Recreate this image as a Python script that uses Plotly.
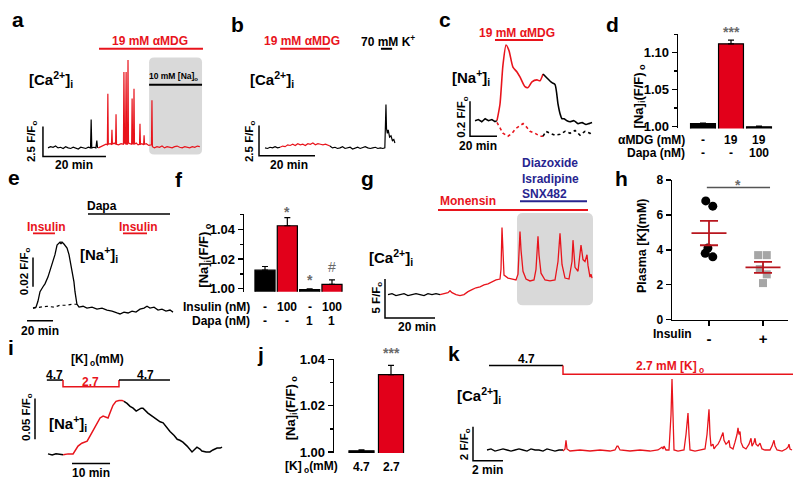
import numpy as np
import plotly.graph_objects as go

W, H = 800, 491
FONT = "Liberation Sans, Arial, Helvetica, sans-serif"
RED = "#e8141c"
BAR_RED = "#e2001a"
MEAN_RED = "#b8161e"
NAVY = "#28258f"
BOX_GRAY = "#d9d9d9"
STAR_GRAY = "#6a6a6a"
SQ_GRAY = "#a6a6a6"

# ====================== DATA ======================
# (a) [Ca2+]i, time (min) vs F/F0
a_t_ctrl = [0, 0.8, 1.6, 2.4, 3.2, 4.0, 4.8, 5.6, 6.4, 7.2, 8.0, 8.8, 9.6, 10.4, 11.2, 12.0, 12.8,
            13.5, 13.7, 13.9, 14.6, 15.2, 15.5, 15.7, 16.0]
a_v_ctrl = [1.0, 1.1, 1.05, 1.15, 1.0, 1.05, 0.95, 1.1, 1.0, 0.95, 1.05, 1.0, 0.9, 1.05, 1.0, 0.95, 1.05,
            1.0, 3.35, 1.0, 1.05, 1.0, 1.6, 1.05, 1.0]
a_t_mdg = [16, 16.8, 17.6, 18.4, 18.85, 19.0, 19.15, 19.7, 20.15, 20.3,
           20.45, 21.0, 21.45, 21.6, 21.75, 22.4, 23.2, 23.95, 24.1, 24.3,
           24.6, 24.8, 24.95, 25.25, 25.4, 25.55, 26.0, 26.55, 26.7, 26.85,
           27.15, 27.3, 27.45, 28.0, 28.6, 29.05, 29.2, 29.35, 29.8, 30.35,
           30.5, 30.65, 31.2, 32.0, 32.85, 33.0, 33.15, 33.8, 34.6, 35.4,
           36.2, 37.0, 37.8, 38.6, 39.4, 40.2, 41.0, 41.8, 42.6, 43.4,
           44.2, 45.0, 45.8, 46.6, 47.4, 48.2]
a_v_mdg = [1.0, 1.1, 1.2, 1.3, 1.25, 5.5, 1.3, 1.35, 1.3, 2.5,
           1.3, 1.4, 1.3, 3.8, 1.3, 1.25, 1.35, 1.3, 7.3, 1.4,
           1.3, 7.3, 1.3, 1.3, 8.3, 1.4, 1.35, 1.3, 5.1, 1.35,
           1.3, 5.9, 1.3, 1.4, 1.25, 1.3, 3.0, 1.3, 1.35, 1.25,
           2.05, 1.3, 1.35, 1.2, 1.25, 4.95, 1.1, 1.0, 1.1, 1.05,
           1.15, 1.0, 1.1, 1.05, 1.0, 1.1, 1.15, 1.05, 1.0, 1.1,
           1.05, 1.0, 1.1, 1.05, 1.15, 1.1]

# (b) [Ca2+]i
b_t_pre = [0, 0.9, 1.8, 2.7, 3.6, 4.5, 5.4]
b_v_pre = [1.0, 0.95, 1.05, 1.0, 1.1, 1.0, 1.05]
b_t_mdg = [5.4, 6.3, 7.2, 8.1, 9.0, 9.9, 10.8, 11.7, 12.6, 13.5, 14.4, 15.3, 16.2, 17.1, 18.0, 18.9,
           19.8, 20.7, 21.6, 22.5, 23.2]
b_v_mdg = [1.05, 1.15, 1.1, 1.25, 1.2, 1.3, 1.2, 1.35, 1.25, 1.3, 1.2, 1.35, 1.3, 1.4, 1.25, 1.35,
           1.3, 1.25, 1.3, 1.2, 1.15]
b_t_post = [23.2, 24.1, 25.0, 25.9, 26.8, 27.7, 28.6, 29.5, 30.4, 31.3, 32.2, 33.1, 34.0, 34.9, 35.8,
            36.7, 37.6, 38.5, 39.4, 40.3, 41.2, 42.1, 42.8, 43.0, 43.2, 43.4, 43.7, 44.0, 44.5, 45.0,
            45.5, 46.0, 46.4]
b_v_post = [1.15, 1.0, 1.05, 0.95, 1.0, 1.1, 0.95, 1.0, 1.05, 0.9, 1.0, 1.05, 0.95, 1.0, 1.1,
            1.0, 0.95, 1.0, 1.05, 0.95, 1.0, 0.95, 1.0, 2.8, 4.6, 2.6, 2.2, 2.5, 1.9, 2.0,
            1.6, 1.7, 1.4]

# (c) [Na+]i
c_t_ctrl = [0, 2.5, 5, 7.5, 10, 12.5, 14.8, 16.3]
c_v_ctrl = [1.0, 1.006, 0.994, 1.011, 1.0, 1.006, 0.994, 1.0]
c_t_mdg = [16.3, 18.5, 20.7, 23.0, 25.2, 28.1, 31.1, 33.3, 37.0, 39.3, 42.2, 45.9, 48.1, 50.4]
c_v_mdg = [1.0, 1.094, 1.317, 1.433, 1.4, 1.306, 1.278, 1.25, 1.194, 1.189, 1.222, 1.233, 1.228, 1.267]
c_t_wash = [50.4, 53.3, 57.0, 59.3, 61.5, 63.0, 64.4, 65.9, 68.1, 70.4, 73.3, 76.3, 79.3, 82.2, 84.4, 86.7]
c_v_wash = [1.267, 1.244, 1.217, 1.206, 1.094, 1.039, 1.011, 1.011, 1.0, 0.994, 1.0, 0.983, 0.989,
            0.978, 0.983, 0.989]
c_t_dapa_mdg = [16.3, 18.5, 20.7, 24.4, 27.4, 30.4, 33.3, 35.6, 38.5, 40.7, 44.4, 48.1, 50.4]
c_v_dapa_mdg = [0.99, 0.956, 0.928, 0.911, 0.928, 0.956, 0.972, 0.983, 0.961, 0.939, 0.928, 0.911, 0.911]
c_t_dapa_wash = [50.4, 52.6, 55.6, 59.3, 63.0, 66.7, 70.4, 74.1, 77.8, 81.5, 85.2, 86.7]
c_v_dapa_wash = [0.911, 0.939, 0.928, 0.917, 0.922, 0.939, 0.928, 0.944, 0.917, 0.939, 0.928, 0.911]

# (d) bars
d_alpha = ["-", "19", "19"]
d_dapa = ["-", "-", "100"]
d_vals = [1.004, 1.112, 0.9995]
d_err = [0.0005, 0.005, 0.001]

# (e) [Na+]i insulin
e_t = [0, 2.3, 3.8, 5.4, 7.7, 9.2, 11.5, 14.6, 16.9, 18.5,
       20.0, 20.8, 21.5, 22.3, 23.8, 26.2, 27.7, 30.0, 31.5, 32.3,
       33.8, 35.4, 38.5, 41.5, 45.4, 49.2, 53.1, 56.9, 60.8, 64.6,
       66.9, 70.0, 73.1, 76.2, 79.2, 82.3, 85.4, 87.7, 90.0, 93.1,
       96.2, 99.2, 102.3, 105.4, 107.7]
e_v = [1.0, 1.0007, 1.0047, 1.0113, 1.0147, 1.0167, 1.0213, 1.03, 1.0367, 1.0433,
       1.0447, 1.0453, 1.044, 1.0453, 1.044, 1.0413, 1.0367, 1.0267, 1.018, 1.0113,
       1.0027, 1.0007, 1.0013, 1.0, 1.0007, 0.9993, 1.0, 0.9987, 0.998, 0.9967,
       0.996, 0.9973, 0.9967, 0.998, 0.9973, 0.9993, 1.0, 1.0013, 1.0, 1.0007,
       0.9987, 0.9993, 0.998, 0.9987, 0.9973]
e_t_dapa = [0, 5.4, 10.8, 16.2, 20.8, 25.4, 30.0, 33.8]
e_v_dapa = [1.0, 1.0007, 1.0013, 1.0007, 1.002, 1.002, 1.0027, 1.0027]

# (f) bars
f_insulin = ["-", "100", "-", "100"]
f_dapa = ["-", "-", "1", "1"]
f_vals = [1.0125, 1.0425, 0.9995, 1.003]
f_err = [0.0025, 0.0055, 0.0005, 0.003]
f_marks = ["", "*", "*", "#"]

# (g) [Ca2+]i monensin
g_t_ctrl = [0, 1.6, 3.2, 4.8, 6.4, 8, 9.6, 11.2, 12.8, 14.4, 16, 17.6, 19.2, 20.8]
g_v_ctrl = [1.0, 1.125, 0.875, 1.0, 1.125, 0.875, 1.0, 1.125, 1.0, 0.875, 1.125, 1.0, 1.125, 1.0]
g_t_mon = [20.8, 22.4, 24, 24.8, 25.6, 27.2, 28.8, 30.4, 32, 33.6, 35.2,
           36.8, 38.4, 40, 41.6, 43.2, 44.8, 45.2, 45.6, 46, 46.4,
           48, 49.6, 51.2, 52, 52.8, 53.2, 54, 55.2, 56.8, 58.4,
           59.2, 60, 60.4, 61.2, 62.8, 64.8, 66.8, 68, 68.8, 69.6,
           70.8, 72.4, 73.6, 74, 74.8, 76, 76.8, 77.2, 78, 78.8,
           79.6, 80, 80.8, 81.2, 81.6]
g_v_mon = [1.0, 1.125, 1.25, 1.5, 1.25, 1.0, 0.875, 1.0, 1.375, 1.625, 1.875,
           2.0, 2.25, 2.375, 2.625, 2.875, 3.0, 4.25, 9.625, 6.125, 3.5,
           3.125, 3.0, 2.875, 3.625, 9.125, 6.75, 4.0, 3.0, 2.75, 2.875,
           4.25, 8.5, 6.125, 3.75, 2.875, 2.75, 2.875, 5.25, 8.875, 4.875,
           3.125, 3.0, 5.25, 8.0, 4.5, 4.0, 6.75, 7.375, 5.5, 5.25,
           6.125, 4.75, 3.25, 3.625, 3.125]
g_blockers = ["Diazoxide", "Isradipine", "SNX482"]

# (h) plasma K
h_groups = ["-", "+"]
h_minus = [6.8, 6.5, 4.1, 3.8, 3.6]
h_plus = [3.7, 3.7, 2.9, 2.6, 2.1]
h_jit_minus = [-0.06, 0.07, -0.02, -0.07, 0.07]
h_jit_plus = [-0.09, 0.07, -0.06, 0.07, 0.0]

# (i) [Na+]i low K
i_steps = [-0.3, 3.95, 18.68, 32.1]
i_t_pre = [0, 1.1, 2.1, 3.2, 4.0]
i_v_pre = [1.0, 0.9988, 1.0, 0.9988, 0.9988]
i_t_low = [4.0, 5.3, 6.6, 7.4, 7.9, 8.9, 10.3, 11.3, 12.4, 13.2,
           13.7, 14.5, 15.0, 15.8, 16.3, 17.1, 17.9, 18.7, 19.5, 20.0]
i_v_low = [0.9988, 1.0, 1.0, 1.006, 1.0095, 1.0131, 1.0155, 1.0238, 1.0333, 1.0405,
           1.044, 1.0464, 1.0452, 1.044, 1.05, 1.0595, 1.0643, 1.0655, 1.0655, 1.0643]
i_t_post = [20.0, 20.8, 21.6, 22.4, 23.2, 23.7, 24.5, 25.0, 25.8, 26.3,
            27.4, 28.7, 29.5, 30.3, 31.3, 32.1, 33.2, 34.0, 34.7, 35.5,
            36.6, 37.4, 37.9, 38.7, 39.2, 40.0, 40.5, 41.6, 42.6, 43.4,
            44.5, 45.3, 45.8]
i_v_post = [1.0643, 1.0619, 1.0583, 1.056, 1.0524, 1.0536, 1.056, 1.056, 1.0524, 1.05,
            1.0464, 1.0417, 1.0393, 1.0381, 1.0321, 1.0274, 1.0226, 1.0179, 1.0167, 1.0143,
            1.0095, 1.0048, 1.0024, 1.006, 1.0083, 1.006, 1.0036, 1.0024, 1.0024, 1.0048,
            1.0071, 1.0071, 1.0083]

# (j) bars
j_k = ["4.7", "2.7"]
j_vals = [1.0005, 1.0335]
j_err = [0.0004, 0.004]

# (k) [Ca2+]i low K, time in s
k_steps = [8, 304, 1224]
k_t_pre = [0, 16, 32, 48, 64, 80, 96, 112, 128, 144, 160, 176, 192, 208, 224, 240, 256, 272, 288, 304]
k_v_pre = [1.0, 1.06, 0.94, 1.0, 1.06, 1.0, 0.94, 1.0, 1.06, 1.0, 0.94, 1.06, 1.0, 1.0, 0.94, 1.06,
           1.0, 0.94, 1.0, 1.0]
k_t_low = [304, 312, 316, 320, 332, 372, 412, 452, 492, 512,
           520, 524, 532, 572, 612, 652, 684, 696, 700, 704,
           708, 716, 728, 736, 740, 744, 748, 764, 788, 796,
           804, 808, 812, 832, 852, 872, 880, 888, 892, 896,
           904, 908, 916, 924, 932, 940, 944, 948, 956, 964,
           968, 972, 984, 992, 1000, 1004, 1008, 1012, 1016, 1024,
           1036, 1048, 1052, 1056, 1060, 1068, 1072, 1076, 1084, 1092,
           1100, 1112, 1132, 1140, 1148, 1152, 1160, 1180, 1196, 1204,
           1208, 1212, 1220]
k_v_low = [0.94, 1.06, 1.57, 1.06, 0.94, 1.0, 0.94, 1.0, 0.94, 1.0,
           1.23, 1.23, 1.0, 0.94, 1.0, 0.94, 1.0, 1.11, 1.17, 1.06,
           1.23, 1.0, 1.0, 3.06, 5.17, 3.06, 1.0, 0.94, 1.0, 1.91,
           3.17, 1.91, 1.0, 0.94, 1.0, 1.06, 1.91, 3.4, 1.91, 1.23,
           1.34, 1.06, 1.23, 1.34, 1.57, 1.91, 2.03, 1.57, 1.34, 1.46,
           1.57, 1.17, 1.06, 1.46, 1.91, 2.31, 1.91, 2.09, 1.46, 1.17,
           1.06, 1.34, 1.57, 1.69, 1.23, 1.46, 1.69, 1.34, 1.23, 1.4,
           1.06, 1.0, 1.0, 1.23, 1.57, 1.23, 1.0, 0.94, 1.06, 1.17,
           1.34, 1.06, 1.0]

# ====================== HELPERS ======================
def px(x):
    return x / W


def py(y):
    return 1 - y / H


def xref(n):
    return 'x' if n == 1 else f'x{n}'


def yref(n):
    return 'y' if n == 1 else f'y{n}'


def rng_x(xpx, a_px, a_val, ppu):
    return [a_val + (xpx[0] - a_px) / ppu, a_val + (xpx[1] - a_px) / ppu]


def rng_y(ypx, a_px, a_val, ppu):
    return [a_val - (ypx[1] - a_px) / ppu, a_val + (a_px - ypx[0]) / ppu]


layout = dict(width=W, height=H, margin=dict(l=0, r=0, t=0, b=0),
              paper_bgcolor='white', plot_bgcolor='rgba(0,0,0,0)',
              showlegend=False, hovermode=False,
              font=dict(family=FONT, color='black'))


def set_axes(n, xpx, ypx, xr, yr, xextra=None, yextra=None):
    xk = 'xaxis' if n == 1 else f'xaxis{n}'
    yk = 'yaxis' if n == 1 else f'yaxis{n}'
    xa = dict(domain=[px(xpx[0]), px(xpx[1])], range=xr, anchor=yref(n), visible=False,
              showgrid=False, zeroline=False, fixedrange=True)
    ya = dict(domain=[py(ypx[1]), py(ypx[0])], range=yr, anchor=xref(n), visible=False,
              showgrid=False, zeroline=False, fixedrange=True)
    if xextra:
        xa.update(xextra)
    if yextra:
        ya.update(yextra)
    layout[xk] = xa
    layout[yk] = ya


def axis_style(tickvals, ticktext, minor_vals=None, size=13):
    d = dict(visible=True, showline=True, linecolor='black', linewidth=1.3, ticks='outside',
             ticklen=5, tickwidth=1.3, tickcolor='black', tickvals=tickvals, ticktext=ticktext,
             tickfont=dict(family=FONT, size=size, color='black', weight='bold'))
    if minor_vals:
        d['minor'] = dict(tickvals=minor_vals, ticks='outside', ticklen=3, tickwidth=1.3,
                          tickcolor='black', showgrid=False)
    return d


fig = go.Figure()
shapes, annots = [], []


def trace(n, t, v, color, width=1.2, dash=None, smooth=False):
    line = dict(color=color, width=width)
    if dash:
        line['dash'] = dash
    if smooth:
        line.update(shape='spline', smoothing=0.6)
    fig.add_trace(go.Scatter(x=t, y=v, mode='lines', line=line, xaxis=xref(n), yaxis=yref(n),
                             hoverinfo='skip'))


def txt(x, y, s, size=12, color='black', angle=0, xa='center', ya='middle', xr='paper', bold=True, align='center'):
    annots.append(dict(x=px(x) if xr == 'paper' else x, y=py(y), xref=xr, yref='paper',
                       text=(f'<b>{s}</b>' if bold else s), showarrow=False, textangle=angle,
                       xanchor=xa, yanchor=ya, align=align, font=dict(family=FONT, size=size, color=color)))


def stim(n, t0, t1, ypix, color, width=2):
    shapes.append(dict(type='line', xref=xref(n), yref='paper', x0=t0, x1=t1, y0=py(ypix), y1=py(ypix),
                       line=dict(color=color, width=width)))


def lbar(n, t0, v0, dt, dv):
    shapes.append(dict(type='path', xref=xref(n), yref=yref(n),
                       path=f'M{t0},{v0 + dv} L{t0},{v0} L{t0 + dt},{v0}',
                       line=dict(color='black', width=1.5)))


def seg(n, x0, y0, x1, y1, color='black', width=1.5):
    shapes.append(dict(type='line', xref=xref(n), yref=yref(n), x0=x0, y0=y0, x1=x1, y1=y1,
                       line=dict(color=color, width=width)))


def rbox(n, x0, x1, y0, y1, rx, ry):
    p = (f'M{x0 + rx},{y0} L{x1 - rx},{y0} Q{x1},{y0} {x1},{y0 + ry} L{x1},{y1 - ry} '
         f'Q{x1},{y1} {x1 - rx},{y1} L{x0 + rx},{y1} Q{x0},{y1} {x0},{y1 - ry} '
         f'L{x0},{y0 + ry} Q{x0},{y0} {x0 + rx},{y0} Z')
    shapes.append(dict(type='path', xref=xref(n), yref=yref(n), path=p, fillcolor=BOX_GRAY,
                       line=dict(width=0), layer='below'))


def bars(n, vals, errs, colors, width):
    fig.add_trace(go.Bar(x=list(range(len(vals))), y=vals, width=width, xaxis=xref(n), yaxis=yref(n),
                         marker=dict(color=colors, line=dict(color='black', width=1.2)),
                         error_y=dict(type='data', array=errs, arrayminus=[0] * len(errs), symmetric=False,
                                      color='black', thickness=1.2, width=3),
                         hoverinfo='skip'))


# ====================== PANEL a ======================
set_axes(1, (40, 210), (40, 162), rng_x((40, 210), 48, 0, 3.15), rng_y((40, 162), 145, 1.0, 12.4))
rbox(1, 32.1, 48.9, 0.44, 8.5, 1.6, 0.4)
trace(1, a_t_ctrl, a_v_ctrl, 'black')
trace(1, a_t_mdg, a_v_mdg, RED)
lbar(1, -1.6, 0.274, 20, 2.5)
stim(1, 16.2, 49.2, 43, RED)
stim(1, 32.1, 48.9, 80, 'black')
txt(18, 13, 'a', 21)
txt(150, 35, '19 mM αMDG', 12, RED)
txt(27, 75, '[Ca<sup>2+</sup>]<sub>i</sub>', 15, xa='left')
txt(173, 72, '10 mM [Na]<sub>o</sub>', 8.5)
txt(32, 139, '2.5 F/F<sub>o</sub>', 11.5, angle=-90)
txt(74, 163, '20 min', 12)

# ====================== PANEL b ======================
set_axes(2, (255, 400), (40, 160), rng_x((255, 400), 265, 0, 2.8), rng_y((40, 160), 145, 1.0, 12.4))
trace(2, b_t_pre, b_v_pre, 'black')
trace(2, b_t_mdg, b_v_mdg, RED)
trace(2, b_t_post, b_v_post, 'black')
lbar(2, -2.14, 0.355, 20, 2.5)
stim(2, 5.4, 23.2, 43, RED)
stim(2, 41.4, 45.4, 43, 'black')
txt(237, 18, 'b', 21)
txt(302, 34.5, '19 mM αMDG', 12, RED)
txt(388, 35, '70 mM K<sup>+</sup>', 12)
txt(248, 75, '[Ca<sup>2+</sup>]<sub>i</sub>', 15, xa='left')
txt(250, 139, '2.5 F/F<sub>o</sub>', 11.5, angle=-90)
txt(289, 163, '20 min', 12)

# ====================== PANEL c ======================
set_axes(3, (465, 600), (25, 140), rng_x((465, 600), 475, 0, 1.35), rng_y((25, 140), 117, 1.0, 180))
trace(3, c_t_dapa_mdg, c_v_dapa_mdg, RED, 1.6, dash='dot')
trace(3, c_t_dapa_wash, c_v_dapa_wash, 'black', 1.6, dash='dot')
trace(3, c_t_ctrl, c_v_ctrl, 'black', 1.5)
trace(3, c_t_mdg, c_v_mdg, RED, 1.6, smooth=True)
trace(3, c_t_wash, c_v_wash, 'black', 1.6, smooth=True)
lbar(3, -3.7, 0.911, 20, 0.2)
stim(3, 14.8, 50.4, 34, RED)
txt(445, 13, 'c', 21)
txt(517, 26.5, '19 mM αMDG', 12, RED)
txt(450, 73, '[Na<sup>+</sup>]<sub>i</sub>', 15, xa='left')
txt(462, 114, '0.2 F/F<sub>o</sub>', 11.5, angle=-90)
txt(478, 143, '20 min', 12)

# ====================== PANEL d ======================
set_axes(4, (678, 775), (28, 125), rng_x((678, 775), 703, 0, 28), rng_y((28, 125), 123, 1.0, 760),
         yextra=axis_style([1.0, 1.05, 1.10], ['1.00', '1.05', '1.10'], [1.025, 1.075, 1.125]))
bars(4, d_vals, d_err, ['black', BAR_RED, 'black'], 0.89)
txt(612, 17.5, 'd', 21)
txt(1, 25.5, '***', 14, STAR_GRAY, xr='x4')
txt(639, 92, '[Na]<sub>i</sub>(F/F)<sub> o</sub>', 13, angle=-90)
txt(687, 137, 'αMDG (mM)', 12, xa='right')
txt(687, 150, 'Dapa (nM)', 12, xa='right')
for k_, (s1, s2) in enumerate(zip(d_alpha, d_dapa)):
    txt(k_, 137, s1, 12, xr='x4')
    txt(k_, 150, s2, 12, xr='x4')

# ====================== PANEL e ======================
set_axes(5, (20, 180), (200, 330), rng_x((20, 180), 33, 0, 1.3), rng_y((200, 330), 310, 1.0, 1500))
trace(5, e_t_dapa, e_v_dapa, 'black', 1.2, dash='dot')
trace(5, e_t, e_v, 'black', 1.3)
seg(5, 0, 1.0147, 0, 1.0347)
seg(5, -4.6, 0.9913, 15.4, 0.9913)
stim(5, 42.3, 105.4, 213, 'black', 1.5)
stim(5, 0, 16.9, 233, RED, 1.8)
stim(5, 69.2, 87.7, 233, RED, 1.8)
txt(14, 175, 'e', 21)
txt(102, 205, 'Dapa', 12)
txt(46, 226.5, 'Insulin', 12, RED)
txt(138, 226.5, 'Insulin', 12, RED)
txt(78, 255, '[Na<sup>+</sup>]<sub>i</sub>', 15, xa='left')
txt(25, 272, '0.02 F/F<sub>o</sub>', 11.5, angle=-90)
txt(40, 333, '20 min', 12)

# ====================== PANEL f ======================
set_axes(6, (244, 345), (213, 293), rng_x((244, 345), 265, 0, 22.33), rng_y((213, 293), 290, 1.0, 1525),
         yextra=axis_style([1.0, 1.02, 1.04], ['1.00', '1.02', '1.04'], [1.01, 1.03, 1.05]))
bars(6, f_vals, f_err, ['black', BAR_RED, 'black', BAR_RED], 0.9)
txt(179, 178, 'f', 21)
txt(205, 256, '[Na]<sub>i</sub>(F/F)<sub> o</sub>', 13, angle=-90)
txt(1, 211.5, f_marks[1], 14, STAR_GRAY, xr='x6')
txt(2, 281.5, f_marks[2], 14, STAR_GRAY, xr='x6')
txt(3, 268, f_marks[3], 14, STAR_GRAY, xr='x6', bold=False)
txt(252, 309, 'Insulin (nM)', 12, xa='right')
txt(252, 323, 'Dapa (nM)', 12, xa='right')
for k_, (s1, s2) in enumerate(zip(f_insulin, f_dapa)):
    txt(k_, 309, s1, 12, xr='x6')
    txt(k_, 323, s2, 12, xr='x6')

# ====================== PANEL g ======================
set_axes(7, (375, 600), (200, 325), rng_x((375, 600), 388, 0, 2.5), rng_y((200, 325), 296, 1.0, 8))
rbox(7, 51.6, 82.0, -0.375, 11.5, 2.4, 0.75)
trace(7, g_t_ctrl, g_v_ctrl, 'black')
trace(7, g_t_mon, g_v_mon, RED, 1.3)
lbar(7, -1.2, -2, 20, 5)
stim(7, 20, 80, 209, RED)
stim(7, 52.8, 79.6, 200, NAVY)
txt(367, 177, 'g', 21)
txt(520, 176.5, '<br>'.join(g_blockers), 12, NAVY, xa='left', align='left')
txt(438, 200, 'Monensin', 12, RED, xa='left')
txt(367, 258, '[Ca<sup>2+</sup>]<sub>i</sub>', 15, xa='left')
txt(377, 299, '5 F/F<sub>o</sub>', 11.5, angle=-90)
txt(417, 329, '20 min', 12)

# ====================== PANEL h ======================
hx = axis_style([0, 1], h_groups, size=15)
hy = axis_style([0, 2, 4, 6, 8], ['0', '2', '4', '6', '8'], size=12)
set_axes(8, (672, 788), (178, 322), rng_x((672, 788), 709, 0, 54), [0, 8], xextra=hx, yextra=hy)
fig.add_trace(go.Scatter(x=[0 + j for j in h_jit_minus], y=h_minus, mode='markers', xaxis='x8', yaxis='y8',
                         marker=dict(symbol='circle', size=9, color='black'), hoverinfo='skip',
                         cliponaxis=False))
fig.add_trace(go.Scatter(x=[1 + j for j in h_jit_plus], y=h_plus, mode='markers', xaxis='x8', yaxis='y8',
                         marker=dict(symbol='square', size=8, color=SQ_GRAY), hoverinfo='skip',
                         cliponaxis=False))
for gi, vals in enumerate([h_minus, h_plus]):
    arr = np.array(vals)
    m = arr.mean()
    s = arr.std(ddof=1) / np.sqrt(len(arr))
    seg(8, gi - 0.324, m, gi + 0.324, m, MEAN_RED, 1.8)
    seg(8, gi - 0.167, m + s, gi + 0.167, m + s, MEAN_RED, 1.8)
    seg(8, gi - 0.167, m - s, gi + 0.167, m - s, MEAN_RED, 1.8)
    seg(8, gi, m - s, gi, m + s, MEAN_RED, 1.8)
seg(8, -0.04, 7.56, 1.13, 7.56, '#555555', 1.5)
txt(621, 177, 'h', 21)
txt(738, 183.5, '*', 14, STAR_GRAY)
txt(642, 246, 'Plasma [K](mM)', 12.5, angle=-90)
txt(672, 337, 'Insulin', 12)

# ====================== PANEL i ======================
set_axes(9, (20, 230), (370, 480), rng_x((20, 230), 48, 0, 3.8), rng_y((370, 480), 460, 1.0, 840))
trace(9, i_t_pre, i_v_pre, 'black', 1.5)
trace(9, i_t_low, i_v_low, RED, 1.5)
trace(9, i_t_post, i_v_post, 'black', 1.5)
seg(9, -3.42, 1.0179, -3.42, 1.0679)
seg(9, 6.32, 0.9881, 16.32, 0.9881)
shapes.append(dict(type='path', xref='x9', yref='paper',
                   path=f'M{i_steps[0]},{py(384)} L{i_steps[1]},{py(384)}', line=dict(color='black', width=1.5)))
shapes.append(dict(type='path', xref='x9', yref='paper',
                   path=f'M{i_steps[1]},{py(384)} L{i_steps[1]},{py(391)} L{i_steps[2]},{py(391)} L{i_steps[2]},{py(384)}',
                   line=dict(color=RED, width=1.5)))
shapes.append(dict(type='path', xref='x9', yref='paper',
                   path=f'M{i_steps[2]},{py(384)} L{i_steps[3]},{py(384)}', line=dict(color='black', width=1.5)))
txt(11, 351, 'i', 21)
txt(97, 363, '[K]<sub> o</sub>(mM)', 12)
txt(54, 378.5, '4.7', 12)
txt(90, 385.5, '2.7', 12, RED)
txt(145, 378.5, '4.7', 12)
txt(27, 422, '0.05 F/F<sub>o</sub>', 11.5, angle=-90)
txt(47, 429, '[Na<sup>+</sup>]<sub>i</sub>', 15, xa='left')
txt(91, 480, '10 min', 12)

# ====================== PANEL j ======================
set_axes(10, (334, 410), (362, 459), rng_x((334, 410), 361.5, 0, 29.5), rng_y((362, 459), 458, 1.0, 2375),
         yextra=axis_style([1.0, 1.02, 1.04], ['1.00', '1.02', '1.04'], [1.01, 1.03]))
bars(10, j_vals, j_err, ['black', BAR_RED], 0.85)
txt(260, 358, 'j', 21)
txt(1, 356.5, '***', 14, STAR_GRAY, xr='x10')
txt(291, 413, '[Na]<sub>i</sub>(F/F)<sub> o</sub>', 13, angle=-90)
txt(340, 474, '[K]<sub> o</sub>(mM)', 12, xa='right')
for k_, s1 in enumerate(j_k):
    txt(k_, 474, s1, 12, xr='x10')

# ====================== PANEL k ======================
set_axes(11, (465, 800), (350, 475), rng_x((465, 800), 487, 0, 0.25), rng_y((350, 475), 456, 1.0, 17.5))
trace(11, k_t_pre, k_v_pre, 'black', 1.3)
trace(11, k_t_low, k_v_low, RED, 1.3)
lbar(11, -56, 0.371, 120, 2)
shapes.append(dict(type='path', xref='x11', yref='paper',
                   path=f'M{k_steps[0]},{py(369)} L{k_steps[1]},{py(369)}', line=dict(color='black', width=1.5)))
shapes.append(dict(type='path', xref='x11', yref='paper',
                   path=f'M{k_steps[1]},{py(369)} L{k_steps[1]},{py(378)} L{k_steps[2]},{py(378)}',
                   line=dict(color=RED, width=1.5)))
txt(454, 357, 'k', 21)
txt(526, 362.5, '4.7', 12)
txt(670, 370.5, '2.7 mM [K]<sub> o</sub>', 12, RED)
txt(455, 400, '[Ca<sup>2+</sup>]<sub>i</sub>', 15, xa='left')
txt(465, 450, '2 F/F<sub>o</sub>', 11.5, angle=-90)
txt(487, 477, '2 min', 12)

layout['shapes'] = shapes
layout['annotations'] = annots
fig.update_layout(**layout)
fig.write_html("out.html", config={'displayModeBar': False, 'staticPlot': True},
               post_script="document.body.style.margin='0px';")
